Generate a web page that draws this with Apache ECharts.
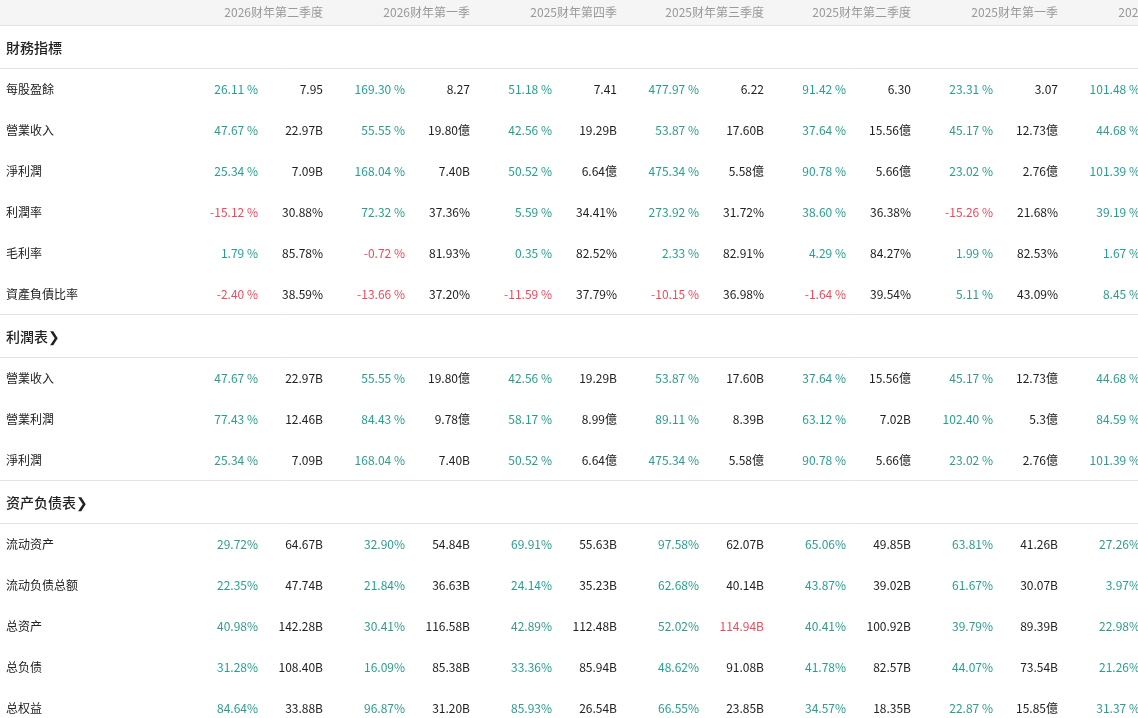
<!DOCTYPE html><html><head><meta charset="utf-8">
<script src="https://cdn.jsdelivr.net/npm/echarts@6/dist/echarts.min.js"></script>
<style>html,body{margin:0;padding:0;background:#fff}#c{width:1138px;height:718px}</style></head><body><div id="c"></div>
<script>
const quarters=["2026财年第二季度","2026财年第一季","2025财年第四季","2025财年第三季度","2025财年第二季度","2025财年第一季","2024财年第四季"];
const sections=["財務指標","利潤表❯","资产负债表❯"];
const rowNames=[["每股盈餘","營業收入","淨利潤","利潤率","毛利率","資產負債比率"],["營業收入","營業利潤","淨利潤"],["流动资产","流动负债总额","总资产","总负债","总权益"]];
const pcts=[
[["26.11 %","169.30 %","51.18 %","477.97 %","91.42 %","23.31 %","101.48 %"],
 ["47.67 %","55.55 %","42.56 %","53.87 %","37.64 %","45.17 %","44.68 %"],
 ["25.34 %","168.04 %","50.52 %","475.34 %","90.78 %","23.02 %","101.39 %"],
 ["-15.12 %","72.32 %","5.59 %","273.92 %","38.60 %","-15.26 %","39.19 %"],
 ["1.79 %","-0.72 %","0.35 %","2.33 %","4.29 %","1.99 %","1.67 %"],
 ["-2.40 %","-13.66 %","-11.59 %","-10.15 %","-1.64 %","5.11 %","8.45 %"]],
[["47.67 %","55.55 %","42.56 %","53.87 %","37.64 %","45.17 %","44.68 %"],
 ["77.43 %","84.43 %","58.17 %","89.11 %","63.12 %","102.40 %","84.59 %"],
 ["25.34 %","168.04 %","50.52 %","475.34 %","90.78 %","23.02 %","101.39 %"]],
[["29.72%","32.90%","69.91%","97.58%","65.06%","63.81%","27.26%"],
 ["22.35%","21.84%","24.14%","62.68%","43.87%","61.67%","3.97%"],
 ["40.98%","30.41%","42.89%","52.02%","40.41%","39.79%","22.98%"],
 ["31.28%","16.09%","33.36%","48.62%","41.78%","44.07%","21.26%"],
 ["84.64%","96.87%","85.93%","66.55%","34.57%","22.87 %","31.37 %"]]];
const vals=[
[["7.95","8.27","7.41","6.22","6.30","3.07"],
 ["22.97B","19.80億","19.29B","17.60B","15.56億","12.73億"],
 ["7.09B","7.40B","6.64億","5.58億","5.66億","2.76億"],
 ["30.88%","37.36%","34.41%","31.72%","36.38%","21.68%"],
 ["85.78%","81.93%","82.52%","82.91%","84.27%","82.53%"],
 ["38.59%","37.20%","37.79%","36.98%","39.54%","43.09%"]],
[["22.97B","19.80億","19.29B","17.60B","15.56億","12.73億"],
 ["12.46B","9.78億","8.99億","8.39B","7.02B","5.3億"],
 ["7.09B","7.40B","6.64億","5.58億","5.66億","2.76億"]],
[["64.67B","54.84B","55.63B","62.07B","49.85B","41.26B"],
 ["47.74B","36.63B","35.23B","40.14B","39.02B","30.07B"],
 ["142.28B","116.58B","112.48B","114.94B","100.92B","89.39B"],
 ["108.40B","85.38B","85.94B","91.08B","82.57B","73.54B"],
 ["33.88B","31.20B","26.54B","23.85B","18.35B","15.85億"]]];
const redValueCells=[[2,2,3]]; // section,row,col

const GREEN='#2a9d8f',RED='#f5475b',BLACK='#222',GRAY='#999',LINE='#e2e2e8';
const texts=[],lines=[],bands=[[0,0,1138,25]];
const pctX=c=>258+147*c, valX=c=>323+147*c;
quarters.forEach((q,c)=>texts.push([valX(c),12,q,GRAY,'right',12]));
lines.push(25);
let y=25;
sections.forEach((s,si)=>{
  texts.push([6,y+23,s,BLACK,'left',14]);
  y+=43; lines.push(y);
  rowNames[si].forEach((n,ri)=>{
    const cy=y+21;
    texts.push([6,cy,n,BLACK,'left',12]);
    pcts[si][ri].forEach((p,c)=>texts.push([pctX(c),cy,p,p.trim().startsWith('-')?RED:GREEN,'right',12]));
    vals[si][ri].forEach((v,c)=>{
      const red=redValueCells.some(r=>r[0]===si&&r[1]===ri&&r[2]===c);
      texts.push([valX(c),cy,v,red?RED:BLACK,'right',12]);
    });
    y+=41;
  });
  if(si<sections.length-1){lines.push(y);}
});
const ch=echarts.init(document.getElementById('c'));
ch.setOption({animation:false,
 grid:{left:0,right:0,top:0,bottom:0},
 xAxis:{type:'value',min:0,max:1138,show:false},
 yAxis:{type:'value',min:0,max:718,inverse:true,show:false},
 series:[
  {type:'custom',data:bands,silent:true,renderItem:(p,api)=>{const a=api.coord([api.value(0),api.value(1)]),b=api.coord([api.value(2),api.value(3)]);return{type:'rect',shape:{x:a[0],y:a[1],width:b[0]-a[0],height:b[1]-a[1]},style:{fill:'#f5f5f5'}};}},
  {type:'custom',data:lines.map(v=>[v]),silent:true,renderItem:(p,api)=>{const a=api.coord([0,api.value(0)]),b=api.coord([1138,api.value(0)]);return{type:'line',shape:{x1:a[0],y1:a[1]+0.5,x2:b[0],y2:b[1]+0.5},style:{stroke:LINE,lineWidth:1}};}},
  {type:'custom',data:texts,silent:true,renderItem:(p,api)=>{const d=texts[p.dataIndex];const a=api.coord([d[0],d[1]]);return{type:'text',x:a[0],y:a[1],style:{text:d[2],fill:d[3],align:d[4],verticalAlign:'middle',font:(d[5]>12?'500 ':'')+d[5]+'px "Noto Sans CJK SC","Noto Sans",sans-serif'}};}}
 ]});
</script></body></html>
